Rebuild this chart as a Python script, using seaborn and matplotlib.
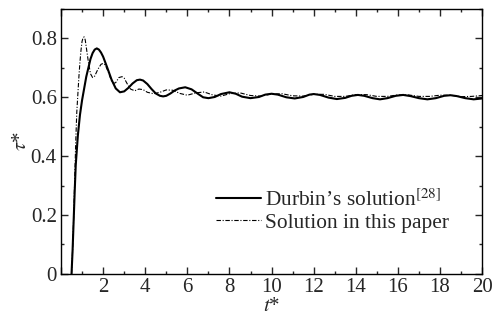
import numpy as np
import pandas as pd
import matplotlib
matplotlib.use("Agg")
import matplotlib.pyplot as plt
import seaborn as sns
from matplotlib.ticker import MultipleLocator, FuncFormatter

# Durbin's solution (solid)
t_durbin = [0.5, 0.55, 0.6, 0.65, 0.7, 0.8, 0.9, 1.0, 1.1, 1.2, 1.3, 1.4, 1.5,
            1.6, 1.7, 1.8, 1.9, 2.0, 2.2, 2.4, 2.6, 2.8, 3.0, 3.2, 3.4, 3.6,
            3.75, 3.9, 4.1, 4.3, 4.5, 4.7, 4.85, 5.0, 5.2, 5.4, 5.6, 5.9, 6.2,
            6.5, 6.75, 7.0, 7.3, 7.6, 8.0, 8.3, 8.6, 9.0, 9.4, 9.7, 10.0, 10.3,
            10.7, 11.1, 11.5, 11.8, 12.0, 12.3, 12.7, 13.1, 13.5, 13.8, 14.1,
            14.4, 14.8, 15.15, 15.5, 15.9, 16.25, 16.6, 17.0, 17.4, 17.8, 18.2,
            18.5, 18.8, 19.2, 19.6, 20.0]
tau_durbin = [0.0, 0.08, 0.18, 0.28, 0.37, 0.47, 0.54, 0.59, 0.63, 0.67, 0.70,
              0.73, 0.75, 0.762, 0.766, 0.762, 0.752, 0.738, 0.700, 0.660,
              0.630, 0.617, 0.620, 0.632, 0.647, 0.658, 0.660, 0.657, 0.645,
              0.628, 0.613, 0.605, 0.603, 0.605, 0.613, 0.623, 0.630, 0.634,
              0.627, 0.612, 0.600, 0.597, 0.601, 0.611, 0.617, 0.612, 0.602,
              0.597, 0.601, 0.609, 0.612, 0.609, 0.600, 0.596, 0.601, 0.609,
              0.611, 0.608, 0.599, 0.594, 0.598, 0.605, 0.608, 0.605, 0.597,
              0.593, 0.597, 0.605, 0.608, 0.604, 0.597, 0.593, 0.597, 0.605,
              0.607, 0.604, 0.597, 0.593, 0.596]

# Solution in this paper (dash-dot)
t_paper = [0.5, 0.55, 0.6, 0.65, 0.7, 0.75, 0.8, 0.85, 0.9, 0.95, 1.0, 1.05,
           1.1, 1.15, 1.2, 1.3, 1.4, 1.5, 1.6, 1.75, 1.9, 2.0, 2.1, 2.25, 2.4,
           2.5, 2.6, 2.75, 2.9, 3.0, 3.15, 3.3, 3.5, 3.7, 3.9, 4.1, 4.4, 4.7,
           5.0, 5.3, 5.65, 6.0, 6.4, 6.8, 7.2, 7.6, 8.0, 8.5, 9.0, 9.5, 10.0,
           10.5, 11.0, 11.5, 12.0, 12.5, 13.0, 13.5, 14.0, 14.5, 15.0, 15.5,
           16.0, 16.5, 17.0, 17.5, 18.0, 18.5, 19.0, 19.5, 20.0]
tau_paper = [0.0, 0.08, 0.19, 0.32, 0.45, 0.55, 0.61, 0.67, 0.72, 0.76, 0.79,
             0.803, 0.805, 0.795, 0.77, 0.72, 0.68, 0.667, 0.672, 0.695, 0.712,
             0.715, 0.71, 0.685, 0.655, 0.647, 0.65, 0.667, 0.67, 0.665, 0.645,
             0.628, 0.622, 0.628, 0.626, 0.617, 0.612, 0.617, 0.625, 0.624,
             0.613, 0.607, 0.615, 0.618, 0.608, 0.604, 0.612, 0.615, 0.606,
             0.604, 0.611, 0.612, 0.605, 0.604, 0.61, 0.61, 0.603, 0.603, 0.609,
             0.609, 0.603, 0.603, 0.608, 0.608, 0.603, 0.603, 0.607, 0.607,
             0.602, 0.603, 0.606]

sns.set_style("ticks")
plt.rcParams.update({
    "font.family": ["Liberation Serif", "DejaVu Serif"],
    "mathtext.fontset": "stix",
    "font.size": 15,
    "xtick.labelsize": 15, "ytick.labelsize": 15,
    "xtick.direction": "in", "ytick.direction": "in",
    "xtick.top": True, "ytick.right": True,
    "xtick.major.size": 5, "ytick.major.size": 5,
    "xtick.minor.size": 2.5, "ytick.minor.size": 2.5,
    "xtick.major.width": 1.0, "ytick.major.width": 1.0,
    "xtick.minor.width": 1.0, "ytick.minor.width": 1.0,
    "axes.linewidth": 1.0, "axes.edgecolor": "black",
})

df_d = pd.DataFrame({"t": t_durbin, "tau": tau_durbin})
df_p = pd.DataFrame({"t": t_paper, "tau": tau_paper})

fig = plt.figure(figsize=(4.96, 3.2), dpi=100)
ax = fig.add_axes([0.123, 0.144, 0.849, 0.828])

sns.lineplot(data=df_d, x="t", y="tau", ax=ax, color="black", linewidth=1.5,
             label="Durbin\u2019s solution$^{[28]}$", sort=False)
sns.lineplot(data=df_p, x="t", y="tau", ax=ax, color="black", linewidth=0.8,
             dashes=False, label="Solution in this paper", sort=False)
ax.lines[1].set_dashes([4, 1.5, 1, 1.5])

ax.set_xlim(0, 20)
ax.set_ylim(0, 0.9)
ax.xaxis.set_major_locator(MultipleLocator(2))
ax.xaxis.set_minor_locator(MultipleLocator(1))
ax.yaxis.set_major_locator(MultipleLocator(0.2))
ax.yaxis.set_minor_locator(MultipleLocator(0.1))
ax.xaxis.set_major_formatter(FuncFormatter(lambda v, p: "" if v == 0 else f"{v:g}"))
ax.yaxis.set_major_formatter(FuncFormatter(lambda v, p: "0" if v == 0 else f"{v:.1f}"))
ax.tick_params(which="both", top=True, right=True, pad=3)

ax.set_xlabel("$t$*", fontsize=15, labelpad=0)
ax.set_ylabel("$\\tau$*", fontsize=15, labelpad=0)

leg = ax.legend(loc="lower right", bbox_to_anchor=(0.922, 0.155), frameon=False,
                borderaxespad=0, borderpad=0,
                handlelength=2.1, handletextpad=0.2, labelspacing=0.1,
                fontsize=15.4)

fig.savefig("out.png", dpi=100)
